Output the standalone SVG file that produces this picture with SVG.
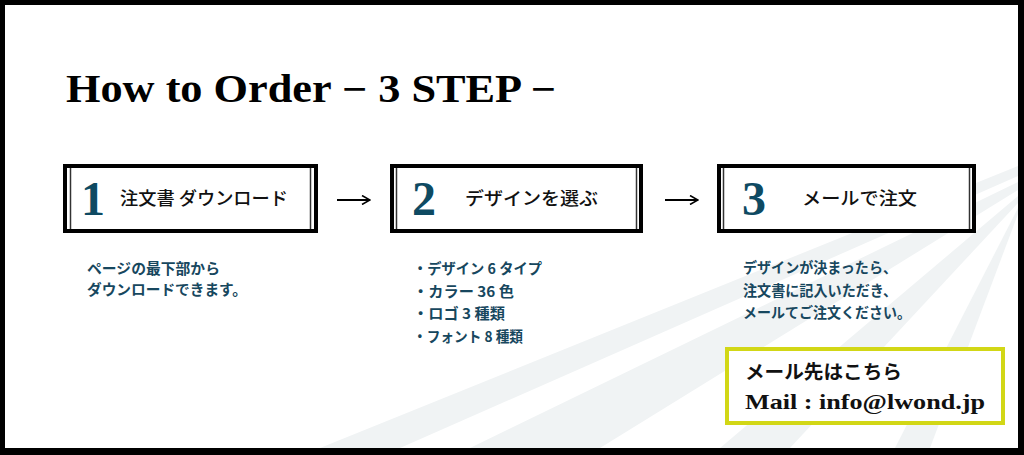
<svg xmlns="http://www.w3.org/2000/svg" width="1024" height="455" viewBox="0 0 1024 455">
<defs>
<style>
.frame{fill:#ffffff;stroke:#000;stroke-width:4}
.inner{stroke:#333;stroke-width:1.5}
.num{font-family:"Liberation Serif","DejaVu Serif",serif;font-weight:bold;font-size:48px;fill:#0e4a62;text-anchor:middle}
.lbl{font-family:"Noto Sans CJK JP",sans-serif;font-weight:500;font-size:18px;fill:#111}
.desc{font-family:"Noto Sans CJK JP",sans-serif;font-weight:bold;font-size:14.5px;fill:#17475e}
.streak{fill:#f0f3f4}
.conn{stroke:#000;stroke-width:1.8;fill:none}
</style>
<marker id="arr" viewBox="0 0 10 10" refX="9" refY="5" markerWidth="10" markerHeight="10" markerUnits="userSpaceOnUse" orient="auto">
<path d="M1,0.5 L9,5 L1,9.5" fill="none" stroke="#000" stroke-width="1.6"/>
</marker>
</defs>
<rect x="0" y="0" width="1024" height="455" fill="#000"/>
<rect x="5" y="5" width="1013" height="443" fill="#fff"/>
<g id="background">
<polygon class="streak" points="1018,166 1018,176 400,448 320,448"/>
<polygon class="streak" points="1018,182 1018,190 600,448 470,448"/>
<polygon class="streak" points="1018,196 1018,203 790,448 720,448"/>
<polygon class="streak" points="1018,208 1018,214 930,448 895,448"/>
</g>
<text x="66" y="102" textLength="490" lengthAdjust="spacingAndGlyphs" font-family="'Liberation Serif','DejaVu Serif',serif" font-weight="bold" font-size="39" fill="#000">How to Order − 3 STEP −</text>
<g id="step1">
<rect class="frame" x="65" y="166" width="251" height="65"/>
<line class="inner" x1="70.5" y1="168" x2="70.5" y2="229"/>
<line class="inner" x1="310.5" y1="168" x2="310.5" y2="229"/>
<text class="num" x="93" y="215">1</text>
<text class="lbl" x="120" y="205" textLength="168" lengthAdjust="spacingAndGlyphs">注文書 ダウンロード</text>
</g>
<g id="step2">
<rect class="frame" x="392" y="166" width="249" height="65"/>
<line class="inner" x1="396.5" y1="168" x2="396.5" y2="229"/>
<line class="inner" x1="636.5" y1="168" x2="636.5" y2="229"/>
<text class="num" x="424" y="215">2</text>
<text class="lbl" x="465" y="205" textLength="133" lengthAdjust="spacingAndGlyphs">デザインを選ぶ</text>
</g>
<g id="step3">
<rect class="frame" x="719" y="166" width="255" height="65"/>
<line class="inner" x1="723.5" y1="168" x2="723.5" y2="229"/>
<line class="inner" x1="969.5" y1="168" x2="969.5" y2="229"/>
<text class="num" x="754" y="215">3</text>
<text class="lbl" x="802" y="205" textLength="115" lengthAdjust="spacingAndGlyphs">メールで注文</text>
</g>
<g id="connectors">
<line class="conn" x1="337" y1="200" x2="370" y2="200" marker-end="url(#arr)"/>
<line class="conn" x1="665" y1="200" x2="698" y2="200" marker-end="url(#arr)"/>
</g>
<g id="desc1">
<text class="desc" x="87" y="274" textLength="133" lengthAdjust="spacingAndGlyphs">ページの最下部から</text>
<text class="desc" x="87" y="295" textLength="160" lengthAdjust="spacingAndGlyphs">ダウンロードできます。</text>
</g>
<g id="desc2">
<text class="desc" x="413" y="274" textLength="129" lengthAdjust="spacingAndGlyphs">・デザイン 6 タイプ</text>
<text class="desc" x="413" y="297" textLength="101" lengthAdjust="spacingAndGlyphs">・カラー 36 色</text>
<text class="desc" x="413" y="319" textLength="92" lengthAdjust="spacingAndGlyphs">・ロゴ 3 種類</text>
<text class="desc" x="413" y="342" textLength="110" lengthAdjust="spacingAndGlyphs">・フォント 8 種類</text>
</g>
<g id="desc3">
<text class="desc" x="743" y="273" textLength="154" lengthAdjust="spacingAndGlyphs">デザインが決まったら、</text>
<text class="desc" x="743" y="296" textLength="154" lengthAdjust="spacingAndGlyphs">注文書に記入いただき、</text>
<text class="desc" x="743" y="318" textLength="168" lengthAdjust="spacingAndGlyphs">メールてご注文ください。</text>
</g>
<g id="mailbox">
<rect x="727" y="349" width="276" height="74" fill="#fff" stroke="#d2d716" stroke-width="4"/>
<text x="745" y="379" textLength="157" lengthAdjust="spacingAndGlyphs" font-family="'Noto Sans CJK JP',sans-serif" font-weight="bold" font-size="19" fill="#111">メール先はこちら</text>
<text x="745" y="409" textLength="240" lengthAdjust="spacingAndGlyphs" font-family="'Liberation Serif','DejaVu Serif',serif" font-weight="bold" font-size="21" fill="#111">Mail : info@lwond.jp</text>
</g>
</svg>
